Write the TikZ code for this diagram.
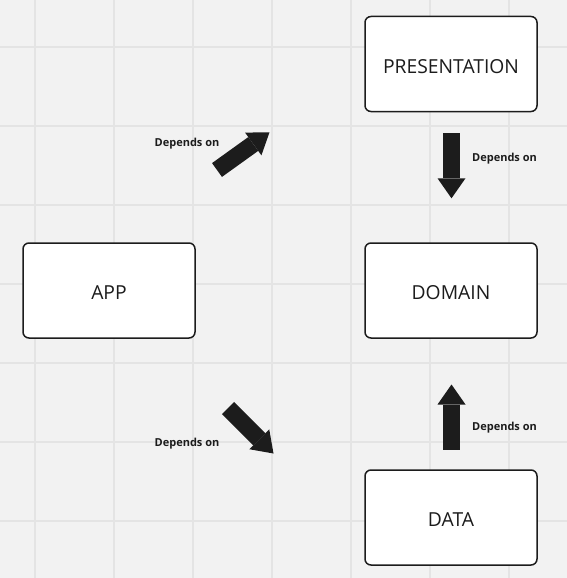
\documentclass[tikz,border=0pt]{standalone}
\usepackage{fontspec}
\setmainfont{Open Sans}
\usetikzlibrary{arrows.meta}
\definecolor{bgc}{HTML}{F2F2F2}
\definecolor{gridc}{HTML}{E4E4E4}
\definecolor{ink}{HTML}{1C1C1C}
\tikzset{
  layer/.style={draw=ink, line width=1.5pt, fill=white, rounded corners=6pt,
    minimum width=172pt, minimum height=95pt, inner sep=0pt, text=ink,
    font=\fontsize{19.3}{21}\selectfont, text height=18.8pt, text depth=0pt},
  blockarrow/.style={draw=ink, line width=17pt,
    -{Triangle[width=28pt,length=20pt,line width=0pt]}},
  deplabel/.style={text=ink, font=\fontsize{11}{12}\selectfont\bfseries, inner sep=0pt}
}
\begin{document}
\begin{tikzpicture}[x=1pt,y=-1pt]
\fill[bgc] (0,0) rectangle (567,578);
\useasboundingbox (0,0) rectangle (567,578);
\foreach \gx in {35,114,193,272,351,430,509}
  \draw[gridc, line width=1.3pt] (\gx,0) -- (\gx,578);
\foreach \gy in {47,126,205,284,363,442,521}
  \draw[gridc, line width=1.3pt] (0,\gy) -- (567,\gy);

\node[layer] (pres) at (451,64) {PRESENTATION};
\node[layer] (dom) at (451,290.5) {DOMAIN};
\node[layer] (app) at (109,290.5) {APP};
\node[layer] (data) at (451,517.5) {DATA};

\coordinate (a1s) at (217,170);
\coordinate (a1e) at (269.5,132.3);
\coordinate (a2s) at (451.5,133.3);
\coordinate (a2e) at (451.5,198.3);
\coordinate (a3s) at (451.5,449.5);
\coordinate (a3e) at (451.5,384.5);
\coordinate (a4s) at (228,408);
\coordinate (a4e) at (273.5,453.5);

\draw[blockarrow] (a1s) -- (a1e);
\draw[blockarrow] (a2s) -- (a2e);
\draw[blockarrow] (a3s) -- (a3e);
\draw[blockarrow] (a4s) -- (a4e);

\node[deplabel] (l1) at (187,143.5) {Depends on};
\node[deplabel] (l2) at (504.5,158.5) {Depends on};
\node[deplabel] (l3) at (504.5,427.5) {Depends on};
\node[deplabel] (l4) at (187,443.5) {Depends on};
\end{tikzpicture}
\end{document}
